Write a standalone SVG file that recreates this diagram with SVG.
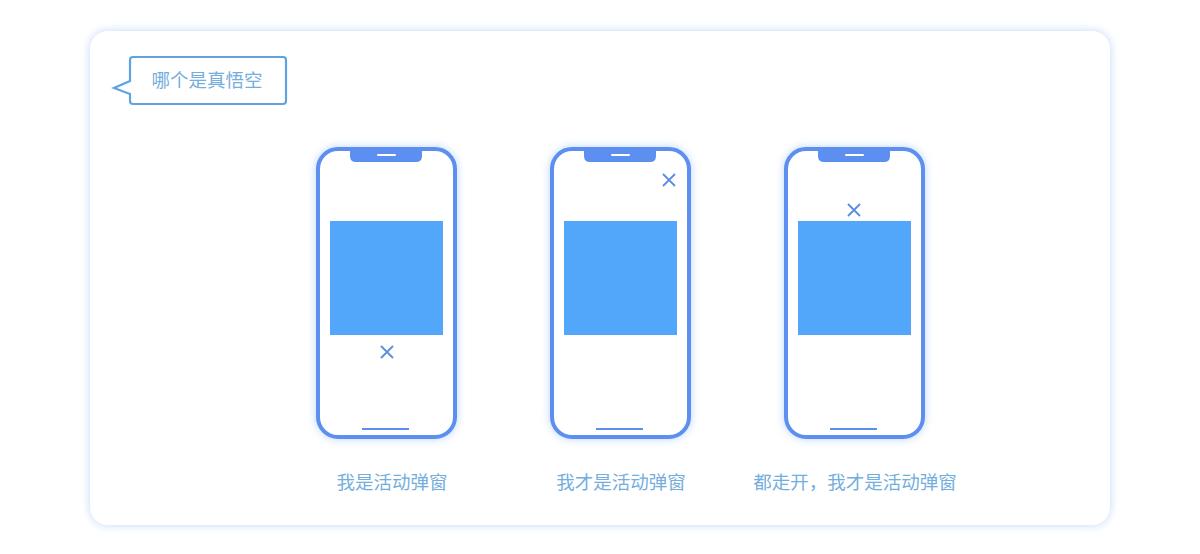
<svg xmlns="http://www.w3.org/2000/svg" width="1200" height="554" viewBox="0 0 1200 554">
<defs>
<style>
.t{font-family:"Liberation Sans","Noto Sans CJK SC",sans-serif;fill:#74aedd;font-size:18.5px;text-anchor:middle}
.phone{fill:#fff;stroke:#5b8ff0;stroke-width:4}
.notch{fill:#5b8ff0}
.line{stroke:#fff;stroke-width:2;stroke-linecap:round}
.home{stroke:#5b8ff0;stroke-width:2}
.pop{fill:#52a7fa}
.x{stroke:#5b8ce0;stroke-width:1.8;fill:none}
</style>
<filter id="glow" x="-15%" y="-10%" width="130%" height="120%">
<feGaussianBlur in="SourceAlpha" stdDeviation="4" result="b"/>
<feFlood flood-color="#9cc4f8" flood-opacity="0.7" result="f"/>
<feComposite operator="in" in="f" in2="b" result="s"/>
<feMerge><feMergeNode in="s"/><feMergeNode in="SourceGraphic"/></feMerge>
</filter>
<filter id="cardglow" x="-5%" y="-10%" width="110%" height="120%">
<feGaussianBlur in="SourceAlpha" stdDeviation="5" result="b"/>
<feFlood flood-color="#b8d4f8" flood-opacity="0.9" result="f"/>
<feComposite operator="in" in="f" in2="b" result="s"/>
<feMerge><feMergeNode in="s"/><feMergeNode in="SourceGraphic"/></feMerge>
</filter>
<g id="phoneShape">
<rect class="phone" x="318" y="149" width="137" height="288" rx="20"/>
<path class="notch" d="M350 149 H422 V156 Q422 162 416 162 H356 Q350 162 350 156 Z"/>
<line class="line" x1="378" y1="155" x2="395" y2="155"/>
<line class="home" x1="362" y1="429" x2="409" y2="429"/>
<rect class="pop" x="330" y="221" width="113" height="114"/>
</g>
</defs>
<rect width="1200" height="554" fill="#fff"/>
<rect id="card" x="90" y="31" width="1020" height="494" rx="18" fill="#fff" filter="url(#cardglow)"/>
<g id="callout">
<path d="M133 57 H283 Q286 57 286 60 V101 Q286 104 283 104 H133 Q130 104 130 101 V94 L114 88 L130 81 V60 Q130 57 133 57 Z" fill="#fff" stroke="#5fa3e0" stroke-width="2.2" stroke-linejoin="miter"/>
<text class="t" x="207" y="87">哪个是真悟空</text>
</g>
<g id="phone1" filter="url(#glow)">
<use href="#phoneShape"/>
<path class="x" d="M381 346 L393 358 M393 346 L381 358"/>
</g>
<g id="phone2" filter="url(#glow)">
<use href="#phoneShape" transform="translate(234 0)"/>
<path class="x" d="M663 174 L675 186 M675 174 L663 186"/>
</g>
<g id="phone3" filter="url(#glow)">
<use href="#phoneShape" transform="translate(468 0)"/>
<path class="x" d="M848 204 L860 216 M860 204 L848 216"/>
</g>
<g id="labels">
<text class="t" x="392" y="489">我是活动弹窗</text>
<text class="t" x="621" y="489">我才是活动弹窗</text>
<text class="t" x="855" y="489">都走开，我才是活动弹窗</text>
</g>
<g id="connectors"></g>
</svg>
